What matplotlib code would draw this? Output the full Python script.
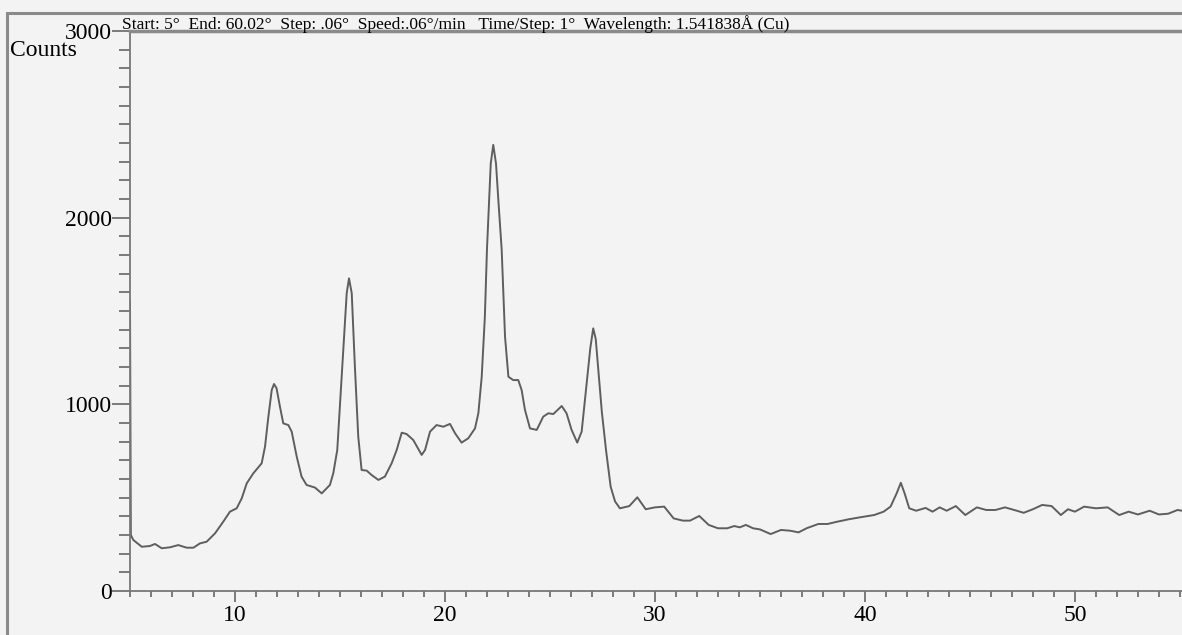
import matplotlib.pyplot as plt
from matplotlib.patches import Rectangle
from matplotlib.ticker import MultipleLocator

# 2theta (deg) and counts
two_theta = [5.0, 5.04, 5.16, 5.56, 5.95, 6.19, 6.51, 6.90, 7.30, 7.70, 8.02, 8.33, 8.65,
             9.05, 9.44, 9.76, 10.08, 10.32, 10.56, 10.87, 11.27, 11.43, 11.59, 11.75,
             11.86, 11.98, 12.14, 12.30, 12.54, 12.70, 12.94, 13.17, 13.41, 13.81, 14.13,
             14.52, 14.68, 14.87, 15.08, 15.32, 15.43, 15.56, 15.71, 15.87, 16.03, 16.27,
             16.51, 16.83, 17.14, 17.46, 17.70, 17.94, 18.17, 18.49, 18.89, 19.05, 19.29,
             19.60, 19.92, 20.24, 20.48, 20.79, 21.11, 21.43, 21.59, 21.75, 21.90, 22.00,
             22.18, 22.30, 22.43, 22.55, 22.70, 22.86, 23.02, 23.25, 23.49, 23.65, 23.81,
             24.05, 24.37, 24.68, 24.92, 25.16, 25.56, 25.79, 26.03, 26.30, 26.51, 26.75,
             26.92, 27.06, 27.18, 27.29, 27.47, 27.67, 27.89, 28.10, 28.33, 28.78, 29.16,
             29.56, 30.0, 30.44, 30.89, 31.33, 31.67, 32.11, 32.56, 33.0, 33.44, 33.78,
             34.04, 34.33, 34.67, 35.0, 35.51, 36.0, 36.44, 36.84, 37.22, 37.78, 38.22,
             38.67, 39.22, 39.78, 40.44, 40.89, 41.22, 41.51, 41.71, 41.89, 42.11, 42.44,
             42.89, 43.22, 43.56, 43.89, 44.33, 44.78, 45.33, 45.78, 46.22, 46.67, 47.11,
             47.56, 48.0, 48.44, 48.89, 49.33, 49.67, 50.0, 50.44, 51.0, 51.56, 52.11,
             52.56, 53.0, 53.56, 54.0, 54.44, 54.89, 55.1]
counts = [1550, 300, 273, 237, 241, 252, 229, 234, 246, 232, 232, 255, 264,
          309, 371, 425, 443, 496, 577, 630, 684, 773, 934, 1077,
          1109, 1086, 988, 898, 889, 854, 720, 613, 568, 554, 523,
          568, 630, 755, 1148, 1595, 1675, 1595, 1202, 827, 648, 645,
          621, 595, 613, 684, 755, 848, 841, 809, 729, 755, 854,
          889, 880, 895, 845, 795, 818, 871, 952, 1148, 1470, 1830,
          2290, 2390, 2290, 2080, 1830, 1363, 1148, 1130, 1130, 1077, 970,
          871, 863, 934, 952, 948, 991, 952, 863, 795, 854, 1113,
          1300, 1407, 1350, 1202, 960, 755, 559, 480, 443, 455, 502,
          438, 448, 452, 389, 377, 377, 402, 354, 336, 336, 348,
          341, 354, 336, 330, 305, 327, 323, 314, 336, 359, 359,
          371, 384, 395, 407, 425, 452, 523, 580, 523, 443, 430,
          445, 425, 448, 430, 455, 407, 448, 434, 434, 448, 434,
          419, 438, 461, 455, 407, 438, 425, 452, 443, 448, 407,
          425, 410, 430, 410, 414, 434, 430]

header = ("Start: 5\u00b0  End: 60.02\u00b0  Step: .06\u00b0  Speed:.06\u00b0/min   "
          "Time/Step: 1\u00b0  Wavelength: 1.541838\u00c5 (Cu)")

plt.rcParams['font.family'] = ['Liberation Serif', 'DejaVu Serif']

W, H = 1182, 635
fig = plt.figure(figsize=(W / 100, H / 100), dpi=100, facecolor='#f3f3f3')
ax = fig.add_axes([130 / W, 1 - 591 / H, (W - 130) / W, (591 - 31) / H])
ax.set_facecolor('#f3f3f3')

ax.plot(two_theta, counts, color='#5e5e5e', lw=1.4)

ax.set_xlim(5, 55.1)
ax.set_ylim(0, 3000)
ax.xaxis.set_major_locator(MultipleLocator(10))
ax.xaxis.set_minor_locator(MultipleLocator(1))
ax.yaxis.set_major_locator(MultipleLocator(1000))
ax.yaxis.set_minor_locator(MultipleLocator(100))
ax.tick_params(axis='both', which='both', colors='#666666', labelcolor='black',
               labelsize=17, width=1.2, direction='out')
ax.tick_params(axis='y', which='major', length=13, pad=0)
ax.tick_params(axis='y', which='minor', length=8)
ax.tick_params(axis='x', which='major', length=8, pad=2)
ax.tick_params(axis='x', which='minor', length=4)

for s in ['left', 'bottom']:
    ax.spines[s].set_color('#777777')
    ax.spines[s].set_linewidth(1.3)
ax.spines['right'].set_visible(False)
ax.spines['top'].set_color('#8a8a8a')
ax.spines['top'].set_linewidth(2.5)

# outer frame of the scan printout
fig.add_artist(Rectangle((7 / W, -0.1), 1.2, 1.1 - 13 / H, transform=fig.transFigure,
                         fill=False, edgecolor='#8a8a8a', lw=2.2, clip_on=False))

fig.text(10 / W, 1 - 50 / H, 'Counts', fontsize=17, va='center', ha='left')
fig.text(122 / W, 1 - 29 / H, header, fontsize=12.5, va='baseline', ha='left')

fig.savefig('out.png', dpi=100, facecolor=fig.get_facecolor())
